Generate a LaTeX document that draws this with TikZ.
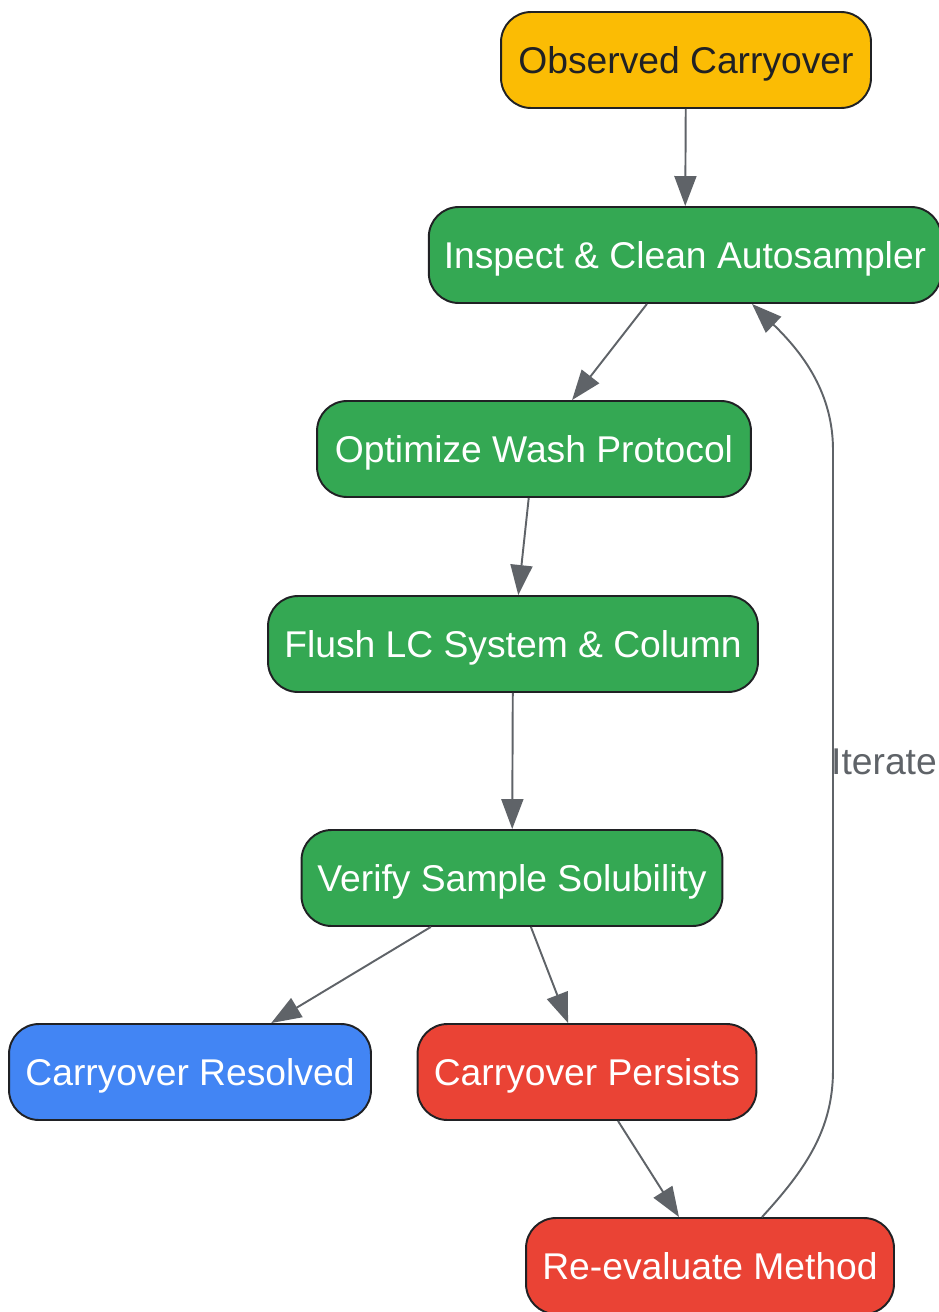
\documentclass[tikz,border=0pt]{standalone}
\usepackage{fontspec}
\setmainfont{Liberation Sans}
\usepackage{tikz}
\usetikzlibrary{arrows.meta, calc}
\definecolor{gyellow}{HTML}{FBBC04}
\definecolor{ggreen}{HTML}{34A853}
\definecolor{gblue}{HTML}{4285F4}
\definecolor{gred}{HTML}{EA4335}
\definecolor{ggray}{HTML}{5F6368}
\definecolor{gdark}{HTML}{202124}

\begin{document}
\begin{tikzpicture}[x=0.02cm, y=-0.02cm,
  box/.style={draw=gdark, line width=1.1pt, rounded corners=0.6cm, minimum height=1.92cm,
    inner xsep=0.3cm, text height=15.3pt, text depth=0pt, text=white,
    font=\fontsize{21.2}{25}\selectfont},
  arr/.style={draw=ggray, line width=1.1pt, -{Triangle[length=0.6cm, width=0.44cm]}}]
\useasboundingbox (0,0) rectangle (939,1312);
\node[box, fill=gyellow, text=gdark, minimum width=7.4cm] (observed) at (686,60) {Observed Carryover};
\node[box, fill=ggreen, minimum width=10.16cm] (inspect) at (685,255) {Inspect \& Clean Autosampler};
\node[box, fill=ggreen, minimum width=8.68cm] (optimize) at (534,449) {Optimize Wash Protocol};
\node[box, fill=ggreen, minimum width=9.8cm] (flush) at (513,644) {Flush LC System \& Column};
\node[box, fill=ggreen, minimum width=8.42cm] (verify) at (512,878) {Verify Sample Solubility};
\node[box, fill=gblue, minimum width=7.24cm] (resolved) at (190,1072) {Carryover Resolved};
\node[box, fill=gred, minimum width=6.78cm] (persists) at (587,1072) {Carryover Persists};
\node[box, fill=gred, minimum width=7.36cm] (reeval) at (710,1266) {Re-evaluate Method};
% flow
\draw[arr] (observed) -- (inspect);
\draw[arr] (inspect) -- (optimize);
\draw[arr] (optimize) -- (flush);
\draw[arr] (flush) -- (verify);
\draw[arr] (verify) -- (resolved);
\draw[arr] (verify) -- (persists);
\draw[arr] (persists) -- (reeval);
% loop back
\draw[arr] ($(reeval.north)+(52,0)$) .. controls (805,1170) and (833,1130) .. (833,1070) -- (833,450)
  .. controls (833,395) and (805,355) .. ($(inspect.south)+(67,0)$);
\node[text=ggray, font=\fontsize{21.2}{25}\selectfont] (iterate) at (884,762) {Iterate};
\end{tikzpicture}
\end{document}
